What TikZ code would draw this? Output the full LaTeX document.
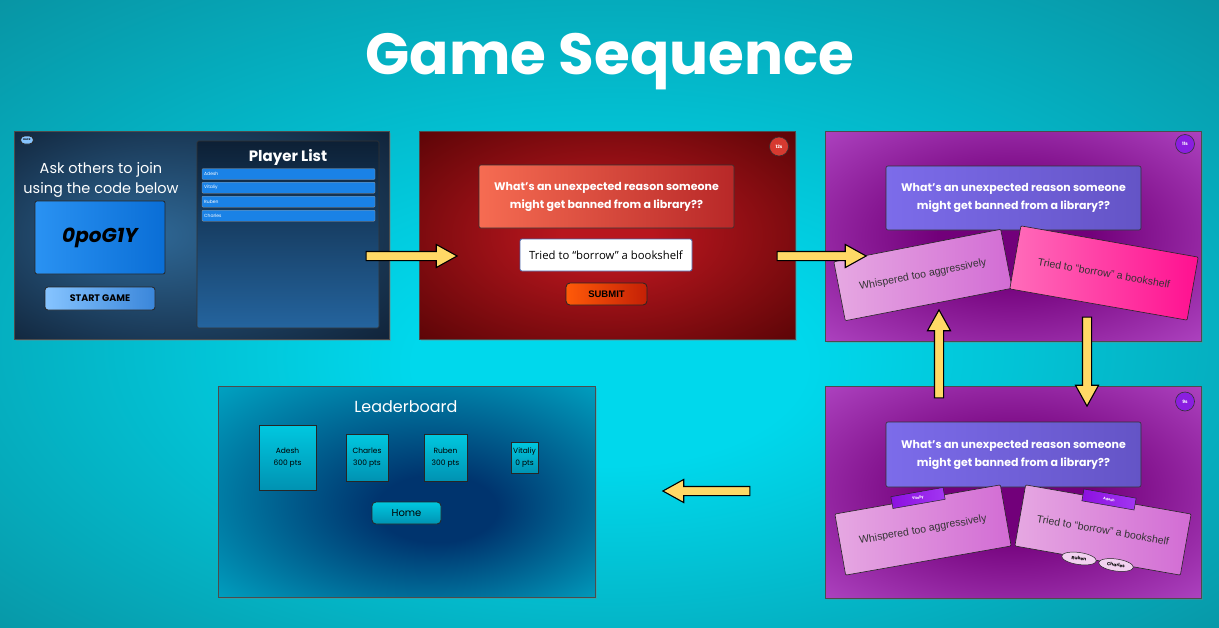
\documentclass[tikz,border=0pt]{standalone}
\usepackage{fontspec}
\setmainfont{Poppins}
\newfontfamily\arialf{Liberation Sans}
\newfontfamily\osans{Open Sans}
\usetikzlibrary{shapes.geometric,shapes.arrows,shadows}
\newcommand\fsz[2]{\fontsize{#1}{#2}\selectfont}
\definecolor{bgin}{HTML}{00D8EC}
\definecolor{bgout}{HTML}{0A8290}
\definecolor{lobbyin}{HTML}{2F6896}
\definecolor{lobbyout}{HTML}{0A1526}
\definecolor{codeA}{HTML}{2A92F2}
\definecolor{codeB}{HTML}{0A6ED6}
\definecolor{startA}{HTML}{86C4FF}
\definecolor{startB}{HTML}{3A86DA}
\definecolor{plA}{HTML}{0D2035}
\definecolor{plB}{HTML}{24649E}
\definecolor{entry}{HTML}{1A82E6}
\definecolor{redin}{HTML}{B8161E}
\definecolor{redout}{HTML}{420000}
\definecolor{qredA}{HTML}{F66C52}
\definecolor{qredB}{HTML}{B82828}
\definecolor{timerred}{HTML}{D63A30}
\definecolor{subA}{HTML}{FF5A08}
\definecolor{subB}{HTML}{C42006}
\definecolor{inputbd}{HTML}{4A64A8}
\definecolor{purin}{HTML}{72007A}
\definecolor{purout}{HTML}{C058D6}
\definecolor{qpurA}{HTML}{7C6CEA}
\definecolor{qpurB}{HTML}{6454C6}
\definecolor{timerpur}{HTML}{8A1EE0}
\definecolor{cardA}{HTML}{E6A8E2}
\definecolor{cardB}{HTML}{D26CD4}
\definecolor{hotA}{HTML}{FF6CBA}
\definecolor{hotB}{HTML}{FF1090}
\definecolor{tagA}{HTML}{8C10E0}
\definecolor{tagB}{HTML}{A236F2}
\definecolor{oval}{HTML}{F2D2F0}
\definecolor{lbin}{HTML}{00346E}
\definecolor{lbout}{HTML}{00B8D2}
\definecolor{lbA}{HTML}{00C8E0}
\definecolor{lbB}{HTML}{0092B2}
\definecolor{arrowy}{HTML}{FFD966}
\definecolor{cardtext}{HTML}{333333}
\pgfdeclareradialshading{bgshade}{\pgfpoint{0bp}{-5bp}}{color(0bp)=(bgin); color(8bp)=(bgin); color(44bp)=(bgout)}
\pgfdeclareradialshading{lobbyshade}{\pgfpoint{-8bp}{0bp}}{color(0bp)=(lobbyin); color(44bp)=(lobbyout)}
\pgfdeclareradialshading{redshade}{\pgfpoint{0bp}{0bp}}{color(0bp)=(redin); color(6bp)=(redin); color(44bp)=(redout)}
\pgfdeclareradialshading{purshade}{\pgfpoint{0bp}{0bp}}{color(0bp)=(purin); color(10bp)=(purin); color(44bp)=(purout)}
\pgfdeclareradialshading{lbshade}{\pgfpoint{5bp}{-5bp}}{color(0bp)=(lbin); color(8bp)=(lbin); color(42bp)=(lbout)}
\tikzset{
  panel/.style={draw=black!70, line width=0.6pt, inner sep=0pt,
    drop shadow={opacity=0.35, shadow xshift=2pt, shadow yshift=-2pt}},
  btn/.style={draw=black!85, line width=0.8pt, inner sep=0pt, rounded corners=#1},
  timer/.style={circle, draw=black!80, line width=0.6pt, minimum size=19pt, inner sep=0pt,
    text=white, font=\fsz{4.5}{5}\bfseries},
  qbox/.style={draw=black!80, line width=0.6pt, rounded corners=2pt, inner sep=0pt,
    minimum width=255pt, text=white, align=center, font=\fsz{11}{18}\bfseries},
  card/.style={draw=black!85, line width=0.6pt, rounded corners=1pt, inner sep=0pt,
    text=cardtext, font=\arialf\fsz{10.5}{12}},
  tag/.style={draw=black!85, line width=0.5pt, inner sep=0pt, left color=tagA, right color=tagB,
    minimum width=53pt, minimum height=12pt, text=white, font=\fsz{3.5}{4}\bfseries},
  voter/.style={ellipse, draw=black!85, line width=0.5pt, fill=oval, inner sep=0pt,
    minimum width=35pt, minimum height=12pt, font=\fsz{4.5}{5}\bfseries},
  entrybox/.style={fill=entry, draw=black!40, line width=0.3pt, rounded corners=1pt,
    minimum width=173pt, minimum height=11pt, inner sep=0pt},
  entrytext/.style={text=white, font=\fsz{4.5}{5}, anchor=west, inner sep=0pt},
  lbbox/.style={draw=black!85, line width=0.6pt, top color=lbA, bottom color=lbB,
    inner sep=0pt, align=center, font=\fsz{7.5}{12}},
  bigarrow/.style={single arrow, draw=black, line width=1.1pt, fill=arrowy, inner sep=4pt,
    minimum width=0pt, single arrow head extend=7pt, single arrow tip angle=58,
    minimum height=#1, sloped, allow upside down},
}
\begin{document}
\begin{tikzpicture}[x=1pt,y=-1pt]
\useasboundingbox (0,0) rectangle (1219,627);
\shade[shading=bgshade] (0,0) rectangle (1219,627);

% Title
\node[text=white, font=\fsz{58}{64}\bfseries] (title) at (610,62) {Game Sequence};

% ---------- Panel 1: lobby ----------
\node[panel, shading=lobbyshade, minimum width=375pt, minimum height=208pt] (p1) at (201.5,235) {};
\node[btn=4pt, fill=startA, minimum width=13pt, minimum height=8pt, font=\fsz{2.5}{3}\bfseries] (back) at (27,140) {BACK};
\node[text=white, font=\fsz{14.5}{20}, align=center] (ask) at (101,180) {Ask others to join\\using the code below};
\node[btn=2pt, left color=codeA, right color=codeB, minimum width=130pt, minimum height=73pt,
  font=\fsz{20}{22}\bfseries\itshape] (code) at (100,237.5) {0poG1Y};
\node[btn=3pt, left color=startA, right color=startB, minimum width=110pt, minimum height=23pt,
  font=\fsz{9.5}{10}\bfseries] (start) at (100,298.5) {START GAME};
\node[draw=black!80, line width=0.6pt, rounded corners=1.5pt, top color=plA, bottom color=plB,
  minimum width=182pt, minimum height=187pt, inner sep=0pt] (plist) at (288,234.5) {};
\node[text=white, font=\fsz{15}{16}\bfseries] (pltitle) at (288,157) {Player List};
\node[entrybox] (e1) at (288.5,174) {};
\node[entrybox] (e2) at (288.5,187.7) {};
\node[entrybox] (e3) at (288.5,201.7) {};
\node[entrybox] (e4) at (288.5,215.7) {};
\node[entrytext] at (204,174) {Adesh};
\node[entrytext] at (204,187.7) {Vitaliy};
\node[entrytext] at (204,201.7) {Ruben};
\node[entrytext] at (204,215.7) {Charles};

% ---------- Panel 2: answer entry ----------
\node[panel, shading=redshade, minimum width=376pt, minimum height=208pt] (p2) at (607,235) {};
\node[timer, fill=timerred] (t2) at (779,146.5) {12s};
\node[qbox, left color=qredA, right color=qredB, minimum height=63pt] (q2) at (606.5,196.5)
  {What’s an unexpected reason someone\\might get banned from a library??};
\node[draw=inputbd, line width=0.8pt, fill=white, rounded corners=2pt, minimum width=172pt,
  minimum height=32pt, inner sep=0pt, font=\osans\fsz{11.3}{12}] (input) at (606,255)
  {Tried to “borrow” a bookshelf};
\node[btn=4pt, left color=subA, right color=subB, minimum width=81pt, minimum height=22pt,
  font=\arialf\fsz{9.5}{10}\bfseries] (submit) at (606.5,294) {SUBMIT};

% ---------- Panel 3: voting ----------
\node[panel, shading=purshade, minimum width=376pt, minimum height=210pt] (p3) at (1013,236) {};
\node[timer, fill=timerpur] (t3) at (1185,144) {11s};
\node[qbox, left color=qpurA, right color=qpurB, minimum height=64pt] (q3) at (1013.5,198)
  {What’s an unexpected reason someone\\might get banned from a library??};
\node[card, left color=cardA, right color=cardB, minimum width=170pt, minimum height=60pt, rotate=11] (c3a) at (923,275) {Whispered too aggressively};
\node[card, left color=hotA, right color=hotB, minimum width=180pt, minimum height=64pt, rotate=-10] (c3b) at (1104,273) {Tried to “borrow” a bookshelf};

% ---------- Panel 4: results ----------
\node[panel, shading=purshade, minimum width=376pt, minimum height=212pt] (p4) at (1013,492) {};
\node[timer, fill=timerpur] (t4) at (1185,401.5) {9s};
\node[qbox, left color=qpurA, right color=qpurB, minimum height=65pt] (q4) at (1013.5,454.5)
  {What’s an unexpected reason someone\\might get banned from a library??};
\node[card, left color=cardA, right color=cardB, minimum width=168pt, minimum height=62pt, rotate=10] (c4a) at (923,530) {Whispered too aggressively};
\node[card, left color=cardA, right color=cardB, minimum width=168pt, minimum height=62pt, rotate=-10] (c4b) at (1103,530) {Tried to “borrow” a bookshelf};
\node[tag, rotate=10] (tagv) at (918,498) {Vitaliy};
\node[tag, rotate=-10] (taga) at (1109,499.5) {Adesh};
\node[voter, rotate=-8] (vr) at (1079,558.5) {Ruben};
\node[voter, rotate=-8] (vc) at (1116,565) {Charles};

% ---------- Panel 5: leaderboard ----------
\node[panel, shading=lbshade, minimum width=377pt, minimum height=211pt] (p5) at (406.5,491.5) {};
\node[text=white, font=\fsz{16}{18}] (lbt) at (406,407) {Leaderboard};
\node[lbbox, minimum width=57pt, minimum height=65pt] (lba) at (287.5,457.5) {Adesh\\600 pts};
\node[lbbox, minimum width=42pt, minimum height=47pt] (lbc) at (367,457.5) {Charles\\300 pts};
\node[lbbox, minimum width=43pt, minimum height=47pt] (lbr) at (445.5,457.5) {Ruben\\300 pts};
\node[lbbox, minimum width=27pt, minimum height=31pt] (lbv) at (524.5,457.5) {Vitaliy\\0 pts};
\node[btn=4pt, top color=lbA, bottom color=lbB, minimum width=69pt, minimum height=22pt,
  font=\fsz{10}{11}] (home) at (406.5,513) {Home};

% ---------- Arrows ----------
\coordinate (a1s) at (362,256); \coordinate (a1e) at (453,256);
\coordinate (a2s) at (773,256); \coordinate (a2e) at (862,256);
\coordinate (a3s) at (939,402); \coordinate (a3e) at (939,314);
\coordinate (a4s) at (1087,313); \coordinate (a4e) at (1087,402);
\coordinate (a5s) at (754,491); \coordinate (a5e) at (667,491);
\path (a1s) -- (a1e) node[midway, bigarrow=91pt] (arr1) {};
\path (a2s) -- (a2e) node[midway, bigarrow=89pt] (arr2) {};
\path (a3s) -- (a3e) node[midway, bigarrow=88pt] (arr3) {};
\path (a4s) -- (a4e) node[midway, bigarrow=89pt] (arr4) {};
\path (a5s) -- (a5e) node[midway, bigarrow=87pt] (arr5) {};
\end{tikzpicture}
\end{document}
